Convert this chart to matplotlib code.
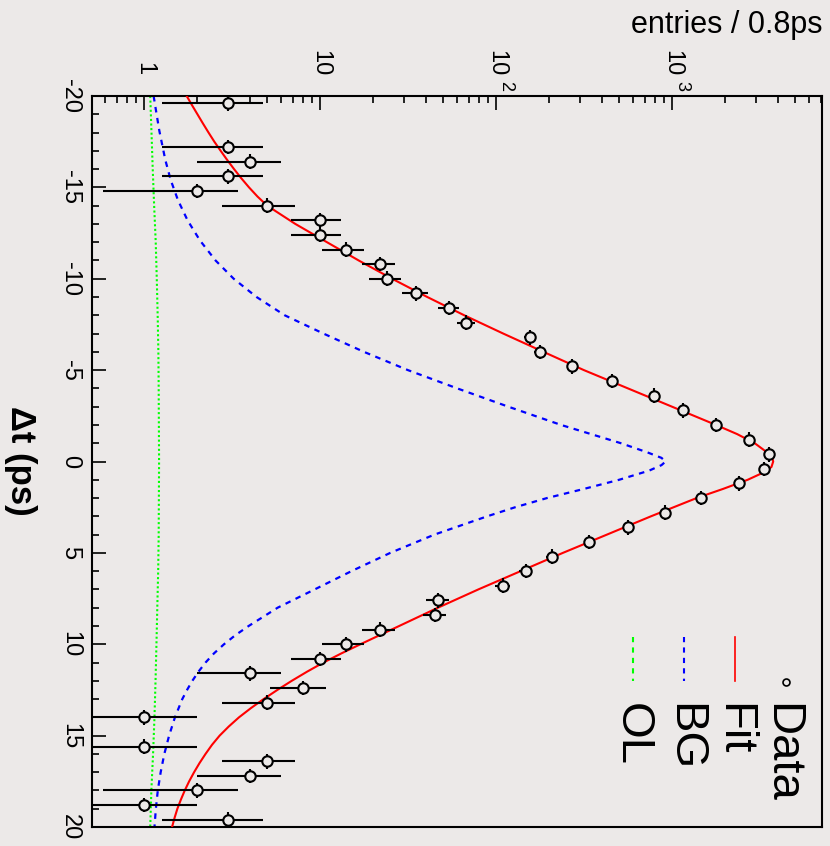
import matplotlib
matplotlib.use("Agg")
import matplotlib.pyplot as plt
import matplotlib.transforms as mtransforms
import numpy as np
from matplotlib.ticker import MultipleLocator, LogLocator, NullFormatter

plt.rcParams["font.family"] = ["Liberation Sans", "DejaVu Sans"]
plt.rcParams["axes.unicode_minus"] = False

BG = "#ECE9E8"

# histogram: bin centres (ps) and entries / 0.8 ps (empty bins are not drawn)
dt_data = [-19.6, -17.2, -16.4, -15.6, -14.8, -14.0, -13.2, -12.4, -11.6, -10.8,
           -10.0, -9.2, -8.4, -7.6, -6.8, -6.0, -5.2, -4.4, -3.6, -2.8,
           -2.0, -1.2, -0.4, 0.4, 1.2, 2.0, 2.8, 3.6, 4.4, 5.2,
           6.0, 6.8, 7.6, 8.4, 9.2, 10.0, 10.8, 11.6, 12.4, 13.2,
           14.0, 15.6, 16.4, 17.2, 18.0, 18.8, 19.6]
n_data = [3, 3, 4, 3, 2, 5, 10, 10, 14, 22,
          24, 35, 54, 68, 156, 178, 270, 456, 790, 1155,
          1780, 2738, 3556, 3334, 2404, 1462, 912, 562, 338, 208,
          148, 109, 47, 45, 22, 14, 10, 4, 8, 5,
          1, 1, 5, 4, 2, 1, 3]

# fit curve (red)
dt_fit = [-20, -19.5, -19, -18.5, -18, -17.5, -17, -16.5, -16, -15.5, -15, -14.5, -14, -13.5,
          -13, -12.5, -12, -11.5, -11, -10, -9, -8, -7, -6, -5, -4, -3, -2, -1.5, -1, -0.5,
          -0.2, 0, 0.3, 0.6, 1.0, 1.5, 2, 3, 4, 5, 6, 7, 8, 9, 10, 10.5, 11, 11.5, 12, 12.5,
          13, 13.5, 14, 14.5, 15, 15.5, 16, 16.5, 17, 17.5, 18, 18.5, 19, 19.5, 20]
fit = [1.750, 1.875, 2.014, 2.163, 2.328, 2.512, 2.729, 2.972, 3.251, 3.573, 3.954, 4.416, 5.012, 6.026,
       7.244, 8.913, 10.96, 13.49, 16.60, 25.70, 40.74, 66.07, 110, 186, 316, 562, 1000, 1778, 2344, 2951, 3467,
       3715, 3758, 3673, 3311, 2692, 1950, 1380, 759, 427, 240, 138, 79.4, 46.8, 28.2, 16.98, 13.24, 10.47, 8.453, 6.918, 5.728,
       4.786, 4.046, 3.467, 3.034, 2.692, 2.438, 2.239, 2.070, 1.928, 1.807, 1.706, 1.622, 1.549, 1.493, 1.445]

# background component (blue dashed)
dt_bg = [-20, -18.1, -16.5, -15.4, -14.3, -13.2, -12.1, -11.0, -10, -9, -8,
         -7, -6, -5, -4, -3, -2.5, -2, -1.5, -1, -0.5, -0.2, 0, 0.2, 0.5, 1, 1.5, 2, 2.5, 3, 4, 5,
         6, 7, 8, 9, 9.5, 10, 10.5, 11, 11.5, 12, 12.5, 13, 14, 15, 16, 17, 18, 19, 20]
bg = [1.135, 1.223, 1.323, 1.420, 1.561, 1.769, 2.080, 2.552, 3.236, 4.365, 6.310,
      10.47, 17.78, 31.62, 60.26, 117.5, 166.0, 234.4, 346.7, 512.9, 724.4, 871.0, 920, 871.0, 741, 501, 316, 195, 128.8, 89.1, 44.7, 25.1,
      15.1, 9.33, 5.75, 3.936, 3.311, 2.851, 2.500, 2.239, 2.042, 1.884, 1.758, 1.652, 1.500, 1.390, 1.306, 1.245, 1.199, 1.169, 1.148]

# outlier component (green dotted)
dt_ol = [-20, -18, -16, -14, -12, -10, -8, -6, -4, -2, 0, 2, 4, 6, 8, 10, 12, 14, 16, 18, 20]
ol = [1.086, 1.104, 1.122, 1.143, 1.167, 1.183, 1.197, 1.208, 1.213, 1.216, 1.219,
      1.216, 1.213, 1.205, 1.191, 1.178, 1.164, 1.148, 1.127, 1.102, 1.086]

legend_labels = ["Data", "Fit", "BG", "OL"]

W, H = 830, 846
fig = plt.figure(figsize=(W / 100, H / 100), dpi=100, facecolor=BG)
ax = fig.add_axes([92 / W, 1 - 827 / H, 730 / W, 731 / H], facecolor=BG)

n = np.array(n_data, dtype=float)
err = np.sqrt(n)
lo = np.where(n - err > 0, err, n * 0.999)

ax.plot(ol, dt_ol, color="#00ff00", lw=1.5, ls=(0, (1, 1.2)), zorder=2)
ax.plot(bg, dt_bg, color="#0000ff", lw=1.6, ls=(0, (2.5, 2.5)), zorder=2)
ax.plot(fit, dt_fit, color="#ff0000", lw=1.5, zorder=3)
ax.errorbar(n, dt_data, xerr=[lo, err], yerr=0.4, fmt="o", ms=7.5, mfc=BG, mec="k",
            mew=1.5, ecolor="k", elinewidth=1.5, capsize=0, zorder=5)

ax.set_xscale("log")
ax.set_xlim(0.507, 7115)
ax.set_ylim(20, -20)

for s in ax.spines.values():
    s.set_linewidth(1.5)

# log axis on top, ticks inside
ax.xaxis.tick_top()
ax.set_xticks([1, 10, 100, 1000])
ax.xaxis.set_minor_locator(LogLocator(subs=np.arange(2, 10)))
ax.xaxis.set_minor_formatter(NullFormatter())
ax.tick_params(axis="x", which="major", direction="in", length=10, width=1.2,
               top=True, bottom=False, labeltop=False, labelbottom=False)
ax.tick_params(axis="x", which="minor", direction="in", length=5, width=1.2,
               top=True, bottom=False)
xtr = ax.get_xaxis_transform()
exp_tr = mtransforms.offset_copy(xtr, fig=fig, x=10, y=0, units="dots")
top_labels = [(1, "1", "", 1.0465), (10, "10", "", 1.0629),
              (100, "10", "2", 1.0629), (1000, "10", "3", 1.0629)]
for v, base, expo, yy in top_labels:
    ax.text(v, yy, base, transform=xtr, rotation=-90, ha="center", va="top",
            fontsize=17, clip_on=False)
    if expo:
        ax.text(v, 1.0205, expo, transform=exp_tr, rotation=-90, ha="center", va="top",
                fontsize=13, clip_on=False)

# delta t axis on the left
ax.set_yticks(np.arange(-20, 21, 5))
ax.yaxis.set_minor_locator(MultipleLocator(1))
ax.tick_params(axis="y", which="major", direction="in", length=10, width=1.2,
               left=True, right=False, pad=8)
ax.tick_params(axis="y", which="minor", direction="in", length=5, width=1.2,
               left=True, right=False)
ax.set_yticklabels([str(v) for v in range(-20, 21, 5)], rotation=-90, va="center", fontsize=17)

fig.text(20 / W, 1 - 461 / H, "Δt (ps)", rotation=-90, ha="center", va="center",
         fontsize=25, fontweight="bold")
fig.text(822 / W, 1 - 25 / H, "entries / 0.8ps", ha="right", va="center", fontsize=22)

# legend, drawn rotated like the rest of the picture
ax.plot([0.9507], [0.1984], "o", ms=5, mfc=BG, mec="k", mew=1.2, transform=ax.transAxes)
ax.plot([0.8808, 0.8808], [0.2599, 0.1997], color="#ff0000", lw=1.2, transform=ax.transAxes)
ax.plot([0.811, 0.811], [0.2599, 0.1997], color="#0000ff", lw=1.5, ls=(0, (2.5, 2.5)),
        transform=ax.transAxes)
ax.plot([0.741, 0.741], [0.2599, 0.1997], color="#00ff00", lw=1.5, ls=(0, (2.5, 2.5)),
        transform=ax.transAxes)
for xf, lab in zip([0.9438, 0.878, 0.811, 0.740], legend_labels):
    ax.text(xf, 0.1696, lab, transform=ax.transAxes, rotation=-90, ha="center", va="top",
            fontsize=34)

fig.savefig("out.png", dpi=100, facecolor=BG)
